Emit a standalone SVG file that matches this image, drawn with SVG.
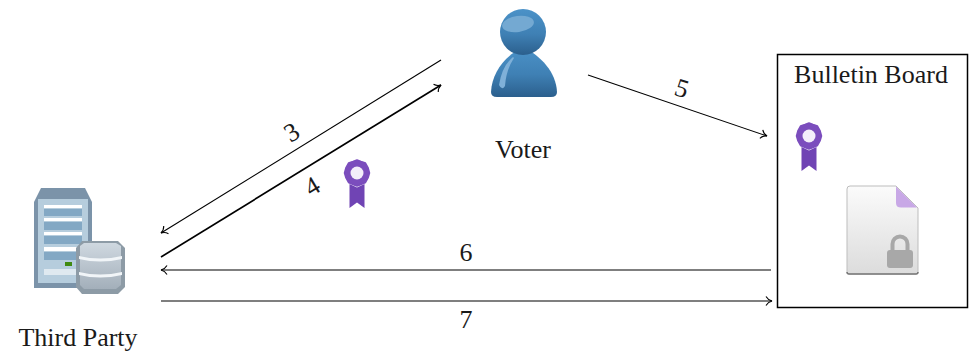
<svg xmlns="http://www.w3.org/2000/svg" width="969" height="356" viewBox="0 0 969 356">
<style>
text{font-family:"Liberation Serif","DejaVu Serif",serif;font-size:26px;fill:#1a1a1a}
.c{fill:none;stroke:#000;stroke-width:1.1}
.b{stroke-width:1.7}
</style>
<defs>
<marker id="to" markerUnits="userSpaceOnUse" markerWidth="14" markerHeight="14" refX="9" refY="7" orient="auto"><path d="M3 2.5Q5 6 9 7Q5 8 3 11.500" fill="none" stroke="#000" stroke-width="1.100"/></marker>
<linearGradient id="vb" x1="0" y1="0" x2="0" y2="1"><stop offset="0" stop-color="#4b92c8"/><stop offset=".55" stop-color="#3f80b4"/><stop offset="1" stop-color="#2b5f8d"/></linearGradient>
<linearGradient id="dr" x1="0" y1="0" x2="0" y2="1"><stop offset="0" stop-color="#cfd8e0"/><stop offset="1" stop-color="#a3afba"/></linearGradient>
<linearGradient id="pg" x1="0" y1="0" x2="0" y2="1"><stop offset="0" stop-color="#fbfbfb"/><stop offset="1" stop-color="#dcdcdc"/></linearGradient>
<g id="rib">
<path d="M-7.500 11V35L0 29.500 7.500 35V11L0 14.500Z" fill="#7044b4"/>
<path d="M0-13 4-11.500 8.500-10 11-5.500 12.500 0 11 5 8.500 9.500 4 11.500 0 13-4 11.500-8.500 9.500-11 5-12.500 0-11-5.500-8.500-10-4-11.500Z" fill="#7b4dbd" stroke="#7b4dbd" stroke-width="1.500" stroke-linejoin="round"/>
<circle r="6.500" fill="#f3eefa"/>
</g>
</defs>
<g id="connectors">
<path class="c" marker-end="url(#to)" d="M441 60 161 233"/>
<path class="c b" marker-end="url(#to)" d="M161 257 441 85"/>
<path class="c" marker-end="url(#to)" d="M588 75 767 136"/>
<path class="c" marker-end="url(#to)" d="M771 270H161"/>
<path class="c" marker-end="url(#to)" d="M161 301H772"/>
<text x="291" y="141" text-anchor="middle" transform="rotate(-31 291 131)">3</text>
<text x="312" y="195" text-anchor="middle" transform="rotate(-31 312 186)">4</text>
<text x="682" y="97" text-anchor="middle" transform="rotate(18 682 88)">5</text>
<text x="466" y="261" text-anchor="middle">6</text>
<text x="466" y="328" text-anchor="middle">7</text>
</g>
<g id="voter">
<path d="M523 47C505 56 492 72 491 92Q491 97 497 97H551Q557 97 557 92C556 72 541 56 523 47Z" fill="url(#vb)"/>
<circle cx="523" cy="32" r="23" fill="url(#vb)"/>
<ellipse cx="518" cy="24" rx="16" ry="8" fill="#74a9d2" transform="rotate(-8 518 24)"/>
<path d="M513 57Q502 66 499 85Q502 91 505 86Q506 70 514 58Z" fill="#7fb0d8"/>
<text x="523" y="158" text-anchor="middle">Voter</text>
</g>
<g id="third-party">
<path d="M34 202 41 188H85L92 202V288H34Z" fill="#7b93a9"/>
<rect x="38" y="199" width="50" height="84" fill="#b6cddd"/>
<rect x="44" y="205" width="38" height="3" fill="#fff"/>
<rect x="44" y="209" width="38" height="7" fill="#83a8c4"/>
<rect x="44" y="222" width="38" height="8" fill="#83a8c4"/>
<rect x="44" y="236" width="38" height="8" fill="#83a8c4"/>
<rect x="44" y="218" width="38" height="3" fill="#fff"/>
<rect x="44" y="232" width="38" height="3" fill="#fff"/>
<rect x="44" y="247" width="38" height="4" fill="#fff"/>
<rect x="44" y="252" width="38" height="8" fill="#83a8c4"/>
<rect x="65" y="262" width="7" height="4" fill="#3f8a10"/>
<rect x="44" y="269" width="34" height="6" fill="#dfe9f0"/>
<path d="M82 241H118L125 248V287L118 294H82L76 287V248Z" fill="#8d9ba6"/>
<path d="M80 246 84 243H116L121 246V285L116 289H84L80 285Z" fill="url(#dr)"/>
<path d="M79 256Q100 261 122 256V259Q100 264 79 259ZM79 272Q100 277 122 272V275Q100 280 79 275Z" fill="#f1f5f8"/>
<text x="78" y="346" text-anchor="middle">Third Party</text>
</g>
<g id="ribbon-4"><use href="#rib" x="357" y="173"/></g>
<g id="bulletin-board">
<rect x="777.500" y="54.500" width="190" height="253" fill="none" stroke="#000" stroke-width="1.500"/>
<text x="871" y="83" text-anchor="middle">Bulletin Board</text>
<use href="#rib" x="809" y="136"/>
<path d="M850 186H896L918 208V272Q918 274 916 274H849Q847 274 847 272V189Q847 186 850 186Z" fill="url(#pg)" stroke="#bdbdbd"/>
<path d="M847 272Q847 274 849 274H916Q918 274 918 272" fill="none" stroke="#777" stroke-width="1.500"/>
<path d="M896 186.500 917 207.500H901Q896 207.500 896 203Z" fill="#c8a8e6"/>
<rect x="887" y="250" width="26" height="18" rx="3" fill="#a8a8a8"/>
<path d="M892.500 250V244A7.500 7.500 0 0 1 907.500 244V250" fill="none" stroke="#a8a8a8" stroke-width="4"/>
</g>
</svg>
